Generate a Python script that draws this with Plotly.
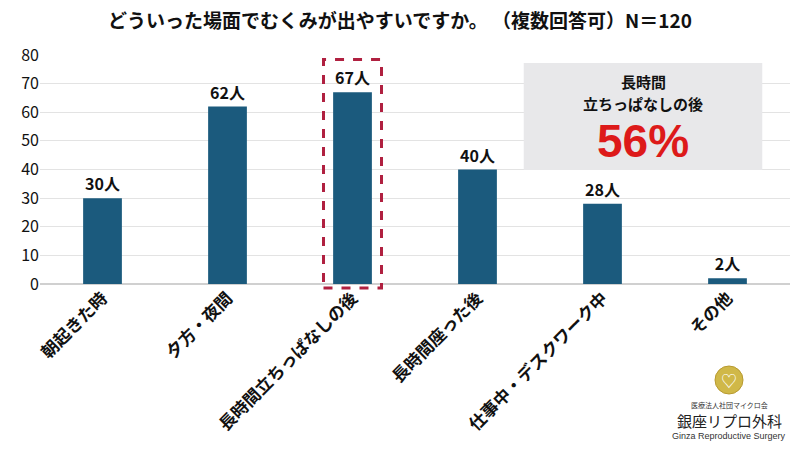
import plotly.graph_objects as go

categories = ["朝起きた時", "夕方・夜間", "長時間立ちっぱなしの後", "長時間座った後", "仕事中・デスクワーク中", "その他"]
values = [30, 62, 67, 40, 28, 2]
labels = [f"<b>{v}人</b>" for v in values]
title = "どういった場面でむくみが出やすいですか。 （複数回答可）N＝120"
ytick_vals = [0, 10, 20, 30, 40, 50, 60, 70, 80]

FONT = "Noto Sans CJK JP"

fig = go.Figure(go.Bar(
    x=categories, y=values, text=labels, textposition="outside",
    textfont=dict(size=16, color="#111", family=FONT),
    marker=dict(color="#1b5a7d", line=dict(width=0)),
    cliponaxis=False,
))

fig.update_layout(
    width=800, height=450,
    margin=dict(l=40, r=10, t=55, b=166),
    paper_bgcolor="white", plot_bgcolor="white",
    bargap=0.69,
    showlegend=False,
    font=dict(family=FONT, color="#111"),
    title=dict(text="<b>" + title + "</b>", x=0.5, xanchor="center", y=0.952, yanchor="middle",
               font=dict(size=19, family=FONT, color="#111")),
)
fig.update_yaxes(range=[0, 80], tickvals=ytick_vals, showgrid=True, gridcolor="#e3e3e3",
                 zeroline=True, zerolinecolor="#d0d0d0", showline=False,
                 tickfont=dict(size=16, family=FONT, color="#111"), ticks="", ticklen=0)
fig.update_xaxes(tickangle=-45, tickfont=dict(size=17, family=FONT, color="#111"), showline=False,
                 tickvals=categories, ticktext=["<b>" + c + "</b>" for c in categories])

# dashed highlight around 3rd bar
fig.add_shape(type="rect", xref="x", yref="paper", x0=1.768, x1=2.232, y0=-0.018, y1=0.98,
              line=dict(color="#b02040", width=3, dash="dash"), fillcolor="rgba(0,0,0,0)")

# gray callout box
fig.add_shape(type="rect", xref="paper", yref="paper", x0=0.645, x1=0.963, y0=0.498, y1=0.965,
              line=dict(width=0), fillcolor="#e8e8ea", layer="above")
fig.add_annotation(xref="paper", yref="paper", x=0.804, y=0.885, xanchor="center", yanchor="middle",
                   text="<b>長時間</b>", showarrow=False, font=dict(size=15, family=FONT, color="#111"))
fig.add_annotation(xref="paper", yref="paper", x=0.804, y=0.79, xanchor="center", yanchor="middle",
                   text="<b>立ちっぱなしの後</b>", showarrow=False, font=dict(size=15, family=FONT, color="#111"))
fig.add_annotation(xref="paper", yref="paper", x=0.804, y=0.625, xanchor="center", yanchor="middle",
                   text="<b>56%</b>", showarrow=False, font=dict(size=46, family="Liberation Sans", color="#dd1a1a"))

# logo
def px(x):
    return (x - 40) / 750

def py(y):
    return (284 - y) / 229

fig.add_shape(type="circle", xref="paper", yref="paper",
              x0=px(715), x1=px(743), y0=py(394), y1=py(366),
              line=dict(color="#b89a30", width=1), fillcolor="#d0b848")
fig.add_annotation(xref="paper", yref="paper", x=px(729), y=py(380), xanchor="center", yanchor="middle",
                   text="♡", showarrow=False, font=dict(size=16, color="white"))
fig.add_annotation(xref="paper", yref="paper", x=px(729), y=py(405), xanchor="center", yanchor="middle",
                   text="医療法人社団マイクロ会", showarrow=False, font=dict(size=7, family=FONT, color="#333"))
fig.add_annotation(xref="paper", yref="paper", x=px(729), y=py(420), xanchor="center", yanchor="middle",
                   text="銀座リプロ外科", showarrow=False, font=dict(size=15, family=FONT, color="#222"))
fig.add_annotation(xref="paper", yref="paper", x=px(729), y=py(436), xanchor="center", yanchor="middle",
                   text="Ginza Reproductive Surgery", showarrow=False, font=dict(size=9, family="Liberation Sans", color="#333"))

fig.write_html("out.html")
